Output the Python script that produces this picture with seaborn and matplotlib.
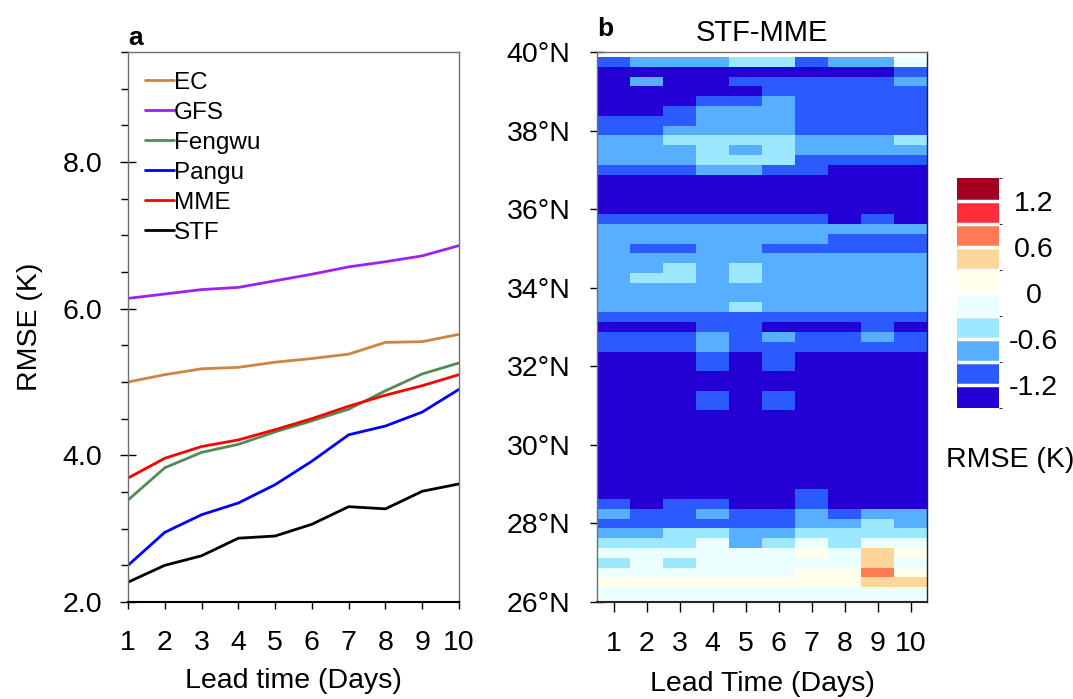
import numpy as np
import pandas as pd
import matplotlib
matplotlib.use("Agg")
import matplotlib.pyplot as plt
from matplotlib.colors import ListedColormap, BoundaryNorm
import seaborn as sns

# ---- panel a: RMSE per lead time ----
lead_days = [1, 2, 3, 4, 5, 6, 7, 8, 9, 10]
ec = [5.00, 5.10, 5.18, 5.20, 5.27, 5.32, 5.38, 5.54, 5.55, 5.65]
gfs = [6.14, 6.20, 6.26, 6.29, 6.38, 6.47, 6.57, 6.64, 6.72, 6.86]
fengwu = [3.39, 3.83, 4.04, 4.15, 4.32, 4.47, 4.63, 4.88, 5.11, 5.26]
pangu = [2.50, 2.95, 3.19, 3.35, 3.60, 3.92, 4.28, 4.40, 4.59, 4.90]
mme = [3.69, 3.96, 4.12, 4.21, 4.35, 4.50, 4.67, 4.82, 4.95, 5.10]
stf = [2.27, 2.50, 2.63, 2.87, 2.90, 3.06, 3.30, 3.27, 3.51, 3.61]

series_names = ["EC", "GFS", "Fengwu", "Pangu", "MME", "STF"]
series_values = [ec, gfs, fengwu, pangu, mme, stf]
series_colors = ["#CD853F", "#A020F0", "#548B54", "#0000FF", "#FF0000", "#000000"]

# ---- panel b: STF-MME RMSE difference, rows from 39.75N (top) to 26N ----
lats = [39.75 - 0.25 * i for i in range(56)]
diff_rows = [
    [-1.0, -0.7, -0.7, -0.7, -0.4, -0.4, -1.0, -0.7, -0.7, -0.1],
    [-1.4, -1.4, -1.4, -1.4, -1.4, -1.4, -1.4, -1.4, -1.4, -1.0],
    [-1.4, -0.7, -1.4, -1.4, -1.0, -1.0, -1.0, -1.0, -1.0, -0.7],
    [-1.4, -1.4, -1.4, -1.4, -1.4, -1.0, -1.0, -1.0, -1.0, -1.0],
    [-1.4, -1.4, -1.4, -1.0, -1.0, -0.7, -1.0, -1.0, -1.0, -1.0],
    [-1.4, -1.4, -1.0, -0.7, -0.7, -0.7, -1.0, -1.0, -1.0, -1.0],
    [-1.0, -1.0, -1.0, -0.7, -0.7, -0.7, -1.0, -1.0, -1.0, -1.0],
    [-1.0, -1.0, -0.7, -0.7, -0.7, -0.7, -1.0, -1.0, -1.0, -1.0],
    [-0.7, -0.7, -0.4, -0.4, -0.4, -0.4, -0.7, -0.7, -0.7, -0.4],
    [-0.7, -0.7, -0.7, -0.4, -0.7, -0.4, -0.7, -0.7, -0.7, -0.7],
    [-0.7, -0.7, -0.7, -0.4, -0.4, -0.4, -1.0, -1.0, -1.0, -1.0],
    [-1.0, -1.0, -1.0, -0.7, -0.7, -1.0, -1.0, -1.4, -1.4, -1.4],
    [-1.4, -1.4, -1.4, -1.4, -1.4, -1.4, -1.4, -1.4, -1.4, -1.4],
    [-1.4, -1.4, -1.4, -1.4, -1.4, -1.4, -1.4, -1.4, -1.4, -1.4],
    [-1.4, -1.4, -1.4, -1.4, -1.4, -1.4, -1.4, -1.4, -1.4, -1.4],
    [-1.4, -1.4, -1.4, -1.4, -1.4, -1.4, -1.4, -1.4, -1.4, -1.4],
    [-1.0, -1.0, -1.0, -1.0, -1.0, -1.0, -1.0, -1.4, -1.0, -1.4],
    [-0.7, -0.7, -0.7, -0.7, -0.7, -0.7, -0.7, -0.7, -0.7, -0.7],
    [-0.7, -0.7, -0.7, -0.7, -0.7, -0.7, -0.7, -1.0, -1.0, -1.0],
    [-0.7, -1.0, -1.0, -0.7, -0.7, -1.0, -1.0, -1.0, -1.0, -1.0],
    [-0.7, -0.7, -0.7, -0.7, -0.7, -0.7, -0.7, -0.7, -0.7, -0.7],
    [-0.7, -0.7, -0.4, -0.7, -0.4, -0.7, -0.7, -0.7, -0.7, -0.7],
    [-0.7, -0.4, -0.4, -0.7, -0.4, -0.7, -0.7, -0.7, -0.7, -0.7],
    [-0.7, -0.7, -0.7, -0.7, -0.7, -0.7, -0.7, -0.7, -0.7, -0.7],
    [-0.7, -0.7, -0.7, -0.7, -0.7, -0.7, -0.7, -0.7, -0.7, -0.7],
    [-0.7, -0.7, -0.7, -0.7, -0.4, -0.7, -0.7, -0.7, -0.7, -0.7],
    [-1.0, -1.0, -1.0, -1.0, -1.0, -1.0, -1.0, -1.0, -1.0, -1.0],
    [-1.4, -1.4, -1.4, -1.0, -1.0, -1.4, -1.4, -1.4, -1.0, -1.4],
    [-1.0, -1.0, -1.0, -0.7, -1.0, -0.7, -1.0, -1.0, -0.7, -1.0],
    [-1.0, -1.0, -1.0, -0.7, -1.0, -1.0, -1.0, -1.0, -1.0, -1.0],
    [-1.4, -1.4, -1.4, -1.0, -1.4, -1.0, -1.4, -1.4, -1.4, -1.4],
    [-1.4, -1.4, -1.4, -1.0, -1.4, -1.0, -1.4, -1.4, -1.4, -1.4],
    [-1.4, -1.4, -1.4, -1.4, -1.4, -1.4, -1.4, -1.4, -1.4, -1.4],
    [-1.4, -1.4, -1.4, -1.4, -1.4, -1.4, -1.4, -1.4, -1.4, -1.4],
    [-1.4, -1.4, -1.4, -1.0, -1.4, -1.0, -1.4, -1.4, -1.4, -1.4],
    [-1.4, -1.4, -1.4, -1.0, -1.4, -1.0, -1.4, -1.4, -1.4, -1.4],
    [-1.4, -1.4, -1.4, -1.4, -1.4, -1.4, -1.4, -1.4, -1.4, -1.4],
    [-1.4, -1.4, -1.4, -1.4, -1.4, -1.4, -1.4, -1.4, -1.4, -1.4],
    [-1.4, -1.4, -1.4, -1.4, -1.4, -1.4, -1.4, -1.4, -1.4, -1.4],
    [-1.4, -1.4, -1.4, -1.4, -1.4, -1.4, -1.4, -1.4, -1.4, -1.4],
    [-1.4, -1.4, -1.4, -1.4, -1.4, -1.4, -1.4, -1.4, -1.4, -1.4],
    [-1.4, -1.4, -1.4, -1.4, -1.4, -1.4, -1.4, -1.4, -1.4, -1.4],
    [-1.4, -1.4, -1.4, -1.4, -1.4, -1.4, -1.4, -1.4, -1.4, -1.4],
    [-1.4, -1.4, -1.4, -1.4, -1.4, -1.4, -1.4, -1.4, -1.4, -1.4],
    [-1.4, -1.4, -1.4, -1.4, -1.4, -1.4, -1.0, -1.4, -1.4, -1.4],
    [-1.0, -1.4, -1.0, -1.0, -1.4, -1.4, -1.0, -1.4, -1.4, -1.4],
    [-0.7, -1.0, -1.0, -0.7, -1.0, -1.0, -0.7, -1.0, -0.7, -0.7],
    [-1.0, -1.0, -1.0, -1.0, -1.0, -1.0, -0.7, -0.7, -0.4, -0.7],
    [-0.7, -0.7, -0.4, -0.4, -0.7, -0.7, -0.4, -0.4, -0.4, -0.4],
    [-0.4, -0.4, -0.4, -0.1, -0.7, -0.4, -0.1, -0.4, -0.1, -0.1],
    [-0.1, -0.1, -0.1, -0.1, -0.1, -0.1, 0.1, -0.1, 0.4, 0.1],
    [-0.4, -0.1, -0.4, -0.1, -0.1, -0.1, -0.1, -0.1, 0.4, -0.1],
    [-0.1, -0.1, -0.1, -0.1, -0.1, -0.1, 0.1, 0.1, 0.7, 0.1],
    [0.1, 0.1, 0.1, 0.1, 0.1, 0.1, 0.1, 0.1, 0.4, 0.4],
    [-0.1, -0.1, -0.1, -0.1, -0.1, -0.1, -0.1, -0.1, -0.1, -0.1],
    [-0.1, -0.1, -0.1, -0.1, -0.1, -0.1, -0.1, -0.1, -0.1, -0.1],
]

level_bounds = [-1.5, -1.2, -0.9, -0.6, -0.3, 0.0, 0.3, 0.6, 0.9, 1.2, 1.5]
level_colors = ["#2400D4", "#2B5AFF", "#58AEFF", "#9BE8FF", "#EBFFFF",
                "#FFFFEB", "#FFD599", "#FF7B55", "#FF2D3B", "#A50022"]
cbar_ticks = [-1.2, -0.6, 0.0, 0.6, 1.2]
cbar_labels = ["-1.2", "-0.6", "0", "0.6", "1.2"]
lat_ticks = [26, 28, 30, 32, 34, 36, 38, 40]

sns.set_style("ticks")
plt.rcParams["font.family"] = ["Liberation Sans", "DejaVu Sans"]
plt.rcParams["axes.linewidth"] = 1.0
for key in ["text.color", "axes.labelcolor", "xtick.color", "ytick.color"]:
    plt.rcParams[key] = "black"

W, H = 1073, 699
fig = plt.figure(figsize=(W / 100, H / 100), dpi=100)
ax1 = fig.add_axes([128 / W, 97 / H, 331 / W, 550 / H])
ax2 = fig.add_axes([597 / W, 97 / H, 330 / W, 550 / H])
cax = fig.add_axes([957 / W, 291 / H, 42 / W, 230 / H])

# panel a
for name, vals, col in zip(series_names, series_values, series_colors):
    sns.lineplot(x=lead_days, y=vals, color=col, linewidth=2.0, label=name, ax=ax1)

ax1.set_xlim(1, 10)
ax1.set_ylim(2, 9.5)
ax1.set_xticks(lead_days)
ax1.set_xticklabels([str(d) for d in lead_days], fontsize=20.5)
ax1.set_yticks([2, 4, 6, 8])
ax1.set_yticklabels(["2.0", "4.0", "6.0", "8.0"], fontsize=20.5)
ax1.set_yticks(np.arange(2, 9.6, 0.5), minor=True)
ax1.tick_params(axis="y", which="major", direction="inout", length=11, width=1, pad=13)
ax1.tick_params(axis="y", which="minor", direction="out", length=5, width=1)
ax1.tick_params(axis="x", which="major", direction="out", length=5, width=1, pad=15)
ax1.set_xlabel("Lead time (Days)", fontsize=20.5, labelpad=9)
ax1.set_ylabel("RMSE (K)", fontsize=20.5, labelpad=14)
for side in ["top", "right", "left"]:
    ax1.spines[side].set_color("#707070")
ax1.spines["bottom"].set_color("black")
ax1.spines["bottom"].set_linewidth(1.5)

leg = ax1.legend(loc="upper left", frameon=False, fontsize=17.5, handlelength=1.2,
                 handletextpad=0.0, labelspacing=0.33, borderaxespad=0.3,
                 bbox_to_anchor=(0.0, 0.995))
ax1.text(0.0, 1.003, "a", transform=ax1.transAxes, fontsize=19, fontweight="bold",
         ha="left", va="bottom")

# panel b
cmap = ListedColormap(level_colors)
norm = BoundaryNorm(level_bounds, cmap.N)
mesh = ax2.pcolormesh(lead_days, lats, np.array(diff_rows), cmap=cmap, norm=norm,
                      shading="nearest")
ax2.set_xlim(0.5, 10.5)
ax2.set_ylim(26, 40)
ax2.set_xticks(lead_days)
ax2.set_xticklabels([str(d) for d in lead_days], fontsize=20.5)
ax2.set_yticks(lat_ticks)
ax2.set_yticklabels([f"{v}°N" for v in lat_ticks], fontsize=20.5)
ax2.tick_params(axis="y", direction="inout", length=10, width=1, pad=14)
ax2.tick_params(axis="x", direction="out", length=7, width=1, pad=14)
ax2.set_xlabel("Lead Time (Days)", fontsize=20.5, labelpad=10)
ax2.set_title("STF-MME", fontsize=21, pad=8)
for side in ["top", "left"]:
    ax2.spines[side].set_color("#707070")
ax2.spines["bottom"].set_linewidth(1.5)
ax2.text(0.0, 1.02, "b", transform=ax2.transAxes, fontsize=19, fontweight="bold",
         ha="left", va="bottom")

# colorbar
cb = fig.colorbar(mesh, cax=cax, ticks=cbar_ticks, drawedges=True)
cb.outline.set_visible(False)
cb.dividers.set_color("white")
cb.dividers.set_linewidth(2.5)
cax.set_yticklabels(cbar_labels, fontsize=20.5, ha="center")
cax.tick_params(axis="y", length=0, pad=25)
fig.text(1010 / W, 1 - 460 / H, "RMSE (K)", fontsize=20.5, ha="center", va="center")

fig.savefig("out.png", dpi=100)
